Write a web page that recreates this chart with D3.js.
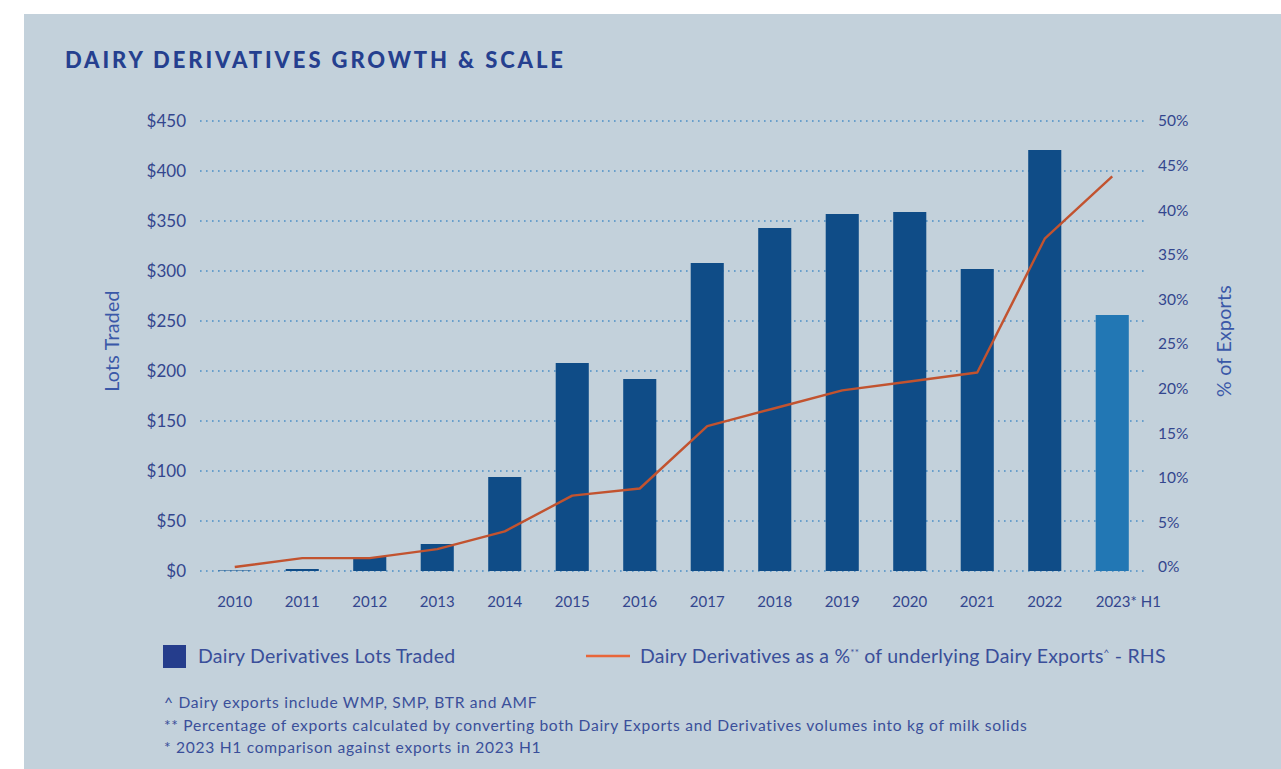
<!DOCTYPE html>
<html>
<head>
<meta charset="utf-8">
<script src="https://cdn.jsdelivr.net/npm/d3@7"></script>
<style>
  html, body { margin: 0; padding: 0; background: #ffffff; }
  svg { display: block; }
  text { font-family: Lato, "Open Sans", sans-serif; }
</style>
</head>
<body>
<svg id="chart" width="1281" height="769"></svg>
<script>
const categories = ["2010","2011","2012","2013","2014","2015","2016","2017","2018","2019","2020","2021","2022","2023* H1"];
const lotsTraded = [0.5, 2, 14, 27, 94, 208, 192, 308, 343, 357, 359, 302, 421, 256];
const pctExports = [0, 1, 1, 2, 4, 8, 8.8, 15.8, 17.8, 19.8, 20.8, 21.8, 36.8, 43.8];
const leftTicks = [0, 50, 100, 150, 200, 250, 300, 350, 400, 450];
const rightTicks = [0, 5, 10, 15, 20, 25, 30, 35, 40, 45, 50];
const titleText = "DAIRY DERIVATIVES GROWTH & SCALE";
const legendLabel1 = "Dairy Derivatives Lots Traded";
const legendLabel2Parts = [["Dairy Derivatives as a %", false], ["**", true], [" of underlying Dairy Exports", false], ["^", true], [" - RHS", false]];
const footnotes = [
  "^ Dairy exports include WMP, SMP, BTR and AMF",
  "** Percentage of exports calculated by converting both Dairy Exports and Derivatives volumes into kg of milk solids",
  "* 2023 H1 comparison against exports in 2023 H1"
];

const svg = d3.select("#chart");
const textColor = "#33468e";
const softText = "#3a4f9a";

svg.append("rect").attr("x", 24).attr("y", 14).attr("width", 1281 - 24).attr("height", 769 - 14).attr("fill", "#c3d1db");

svg.append("text").attr("x", 65).attr("y", 68).text(titleText)
  .attr("fill", "#253f8f").attr("font-size", 22).attr("font-weight", 900).attr("letter-spacing", 2.9);

const x = d3.scaleBand().domain(categories).range([201, 1146]).paddingInner(0.51).paddingOuter(0.255);
const yL = d3.scaleLinear().domain([0, 450]).range([571, 121]);
const yR = d3.scaleLinear().domain([0, 50]).range([567, 121]);

// gridlines
svg.append("g").selectAll("line").data(leftTicks).join("line")
  .attr("x1", 200).attr("x2", 1147)
  .attr("y1", d => yL(d)).attr("y2", d => yL(d))
  .attr("stroke", "#4b8ec6").attr("stroke-width", 1.6)
  .attr("stroke-dasharray", "1.6,4.4");

// bars
svg.append("g").selectAll("rect").data(lotsTraded).join("rect")
  .attr("x", (d, i) => x(categories[i]))
  .attr("width", x.bandwidth())
  .attr("y", d => yL(d))
  .attr("height", d => yL(0) - yL(d))
  .attr("fill", (d, i) => i === categories.length - 1 ? "#2277b4" : "#0f4c87");

// line
const line = d3.line().x((d, i) => x(categories[i]) + x.bandwidth() / 2).y(d => yR(d));
svg.append("path").datum(pctExports).attr("d", line)
  .attr("fill", "none").attr("stroke", "#c2532f").attr("stroke-width", 2.4).attr("stroke-linejoin", "round");

// left axis
const gL = svg.append("g").attr("transform", "translate(186,0)")
  .call(d3.axisLeft(yL).tickValues(leftTicks).tickFormat(d => "$" + d).tickSize(0).tickPadding(0));
gL.select(".domain").remove();
gL.selectAll("text").attr("font-size", 17).attr("fill", textColor).attr("font-family", "Lato, sans-serif");

// right axis
const gR = svg.append("g").attr("transform", "translate(1158,0)")
  .call(d3.axisRight(yR).tickValues(rightTicks).tickFormat(d => d + "%").tickSize(0).tickPadding(0));
gR.select(".domain").remove();
gR.selectAll("text").attr("font-size", 15.5).attr("fill", textColor).attr("font-family", "Lato, sans-serif");

// x axis
const gX = svg.append("g").attr("transform", "translate(0,596)")
  .call(d3.axisBottom(x).tickSize(0).tickPadding(0));
gX.select(".domain").remove();
gX.selectAll("text").attr("font-size", 15).attr("fill", textColor).attr("font-family", "Lato, sans-serif");
gX.selectAll(".tick text").filter(d => d === categories[categories.length - 1])
  .attr("text-anchor", "start").attr("x", -x.bandwidth() / 2);

// axis titles
svg.append("text").attr("transform", "translate(119,341) rotate(-90)").attr("text-anchor", "middle")
  .text("Lots Traded").attr("font-size", 19.5).attr("fill", "#3a58a8").attr("letter-spacing", 0.3);
svg.append("text").attr("transform", "translate(1231,341) rotate(-90)").attr("text-anchor", "middle")
  .text("% of Exports").attr("font-size", 19.5).attr("fill", "#3a58a8").attr("letter-spacing", 0.3);

// legend
svg.append("rect").attr("x", 163).attr("y", 645).attr("width", 23).attr("height", 23).attr("fill", "#253d8c");
svg.append("text").attr("x", 198).attr("y", 663).text(legendLabel1)
  .attr("font-size", 19.5).attr("letter-spacing", 0.25).attr("fill", softText);
svg.append("line").attr("x1", 586).attr("x2", 630).attr("y1", 656).attr("y2", 656)
  .attr("stroke", "#e8663a").attr("stroke-width", 2.5);
const lg2 = svg.append("text").attr("x", 640).attr("y", 663)
  .attr("font-size", 19.5).attr("letter-spacing", 0.2).attr("fill", softText);
lg2.selectAll("tspan").data(legendLabel2Parts).join("tspan")
  .text(d => d[0])
  .attr("font-size", d => d[1] ? 10 : null)
  .attr("dy", (d, i) => d[1] ? -7 : (i > 0 && legendLabel2Parts[i - 1][1] ? 7 : 0));

// footnotes
svg.append("g").selectAll("text").data(footnotes).join("text")
  .attr("x", 164).attr("y", (d, i) => 708 + i * 22.5)
  .text(d => d).attr("font-size", 15.6).attr("letter-spacing", 0.7).attr("fill", softText);
</script>
</body>
</html>
